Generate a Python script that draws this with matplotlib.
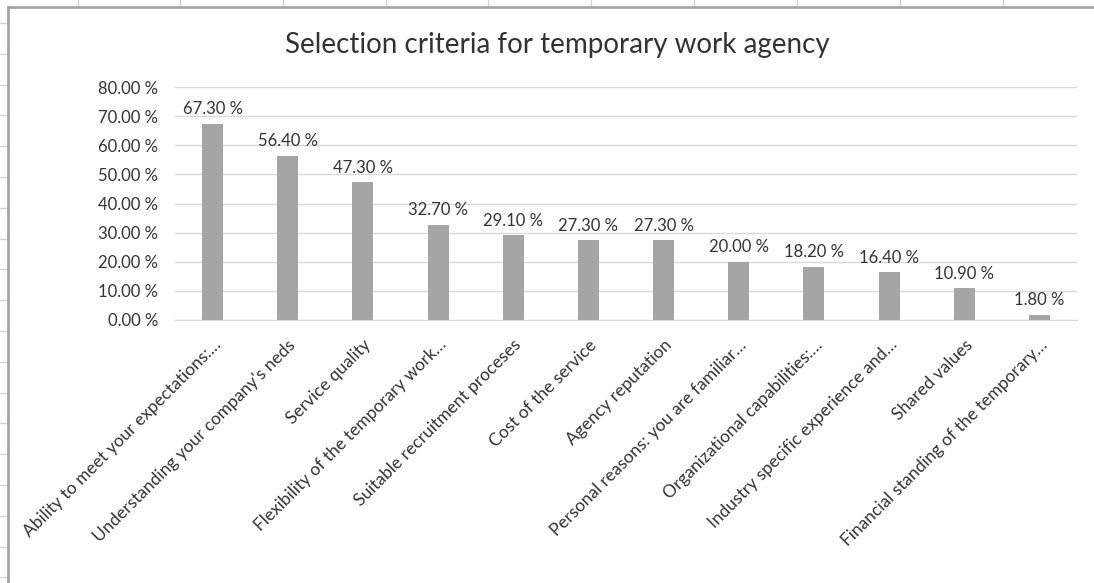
import matplotlib.pyplot as plt
from matplotlib.lines import Line2D

plt.rcParams['font.family'] = ['Lato', 'DejaVu Sans']

categories = ["Ability to meet your expectations:\u2026",
              "Understanding your company's neds",
              "Service quality",
              "Flexibility of the temporary work\u2026",
              "Suitable recruitment proceses",
              "Cost of the service",
              "Agency reputation",
              "Personal reasons: you are familiar\u2026",
              "Organizational capabilities:\u2026",
              "Industry specific experience and\u2026",
              "Shared values",
              "Financial standing of the temporary\u2026"]
values = [67.3, 56.4, 47.3, 32.7, 29.1, 27.3, 27.3, 20.0, 18.2, 16.4, 10.9, 1.8]
yticks = [0, 10, 20, 30, 40, 50, 60, 70, 80]

W, H = 1094, 583
fig = plt.figure(figsize=(W / 100, H / 100), dpi=100)

# spreadsheet cells behind the chart
for x in [78, 180, 283, 386, 488, 591, 694, 797, 900, 1003]:
    fig.add_artist(Line2D([x / W, x / W], [1, 1 - 7 / H], color="#d4d4d4", lw=1))
for k in range(19):
    y = 23 + 30.8 * k
    fig.add_artist(Line2D([0, 8 / W], [1 - y / H, 1 - y / H], color="#d4d4d4", lw=1))
fig.add_artist(Line2D([8 / W, 1], [1 - 7 / H, 1 - 7 / H], color="#a6a6a6", lw=2))
fig.add_artist(Line2D([8 / W, 8 / W], [0, 1 - 7 / H], color="#a6a6a6", lw=2))

ax = fig.add_axes([175 / W, 1 - 320 / H, (1077 - 175) / W, (320 - 87) / H])
x = range(len(categories))
ax.bar(x, values, width=0.28, color="#a5a5a5", zorder=3)
for i, v in zip(x, values):
    ax.text(i, v + 2.3, "%.2f %%" % v, ha="center", va="bottom",
            fontsize=12, color="#333333")

ax.set_xlim(-0.5, len(categories) - 0.5)
ax.set_ylim(0, 80)
ax.set_yticks(yticks)
ax.set_yticklabels(["%.2f %%" % t for t in yticks], fontsize=12, color="#333333")
ax.set_xticks(list(x))
ax.set_xticklabels(categories, rotation=45, ha="right", rotation_mode="anchor",
                   fontsize=12.5, color="#333333")
ax.tick_params(length=0)
ax.tick_params(axis="y", pad=12)
ax.tick_params(axis="x", pad=12)
ax.grid(axis="y", color="#d9d9d9", lw=1, zorder=0)
for s in ["top", "right", "left"]:
    ax.spines[s].set_visible(False)
ax.spines["bottom"].set_color("#d9d9d9")

fig.text(557 / W, 1 - 45 / H, "Selection criteria for temporary work agency",
         ha="center", va="center", fontsize=20, color="#333333")

plt.savefig("out.png", dpi=100)
